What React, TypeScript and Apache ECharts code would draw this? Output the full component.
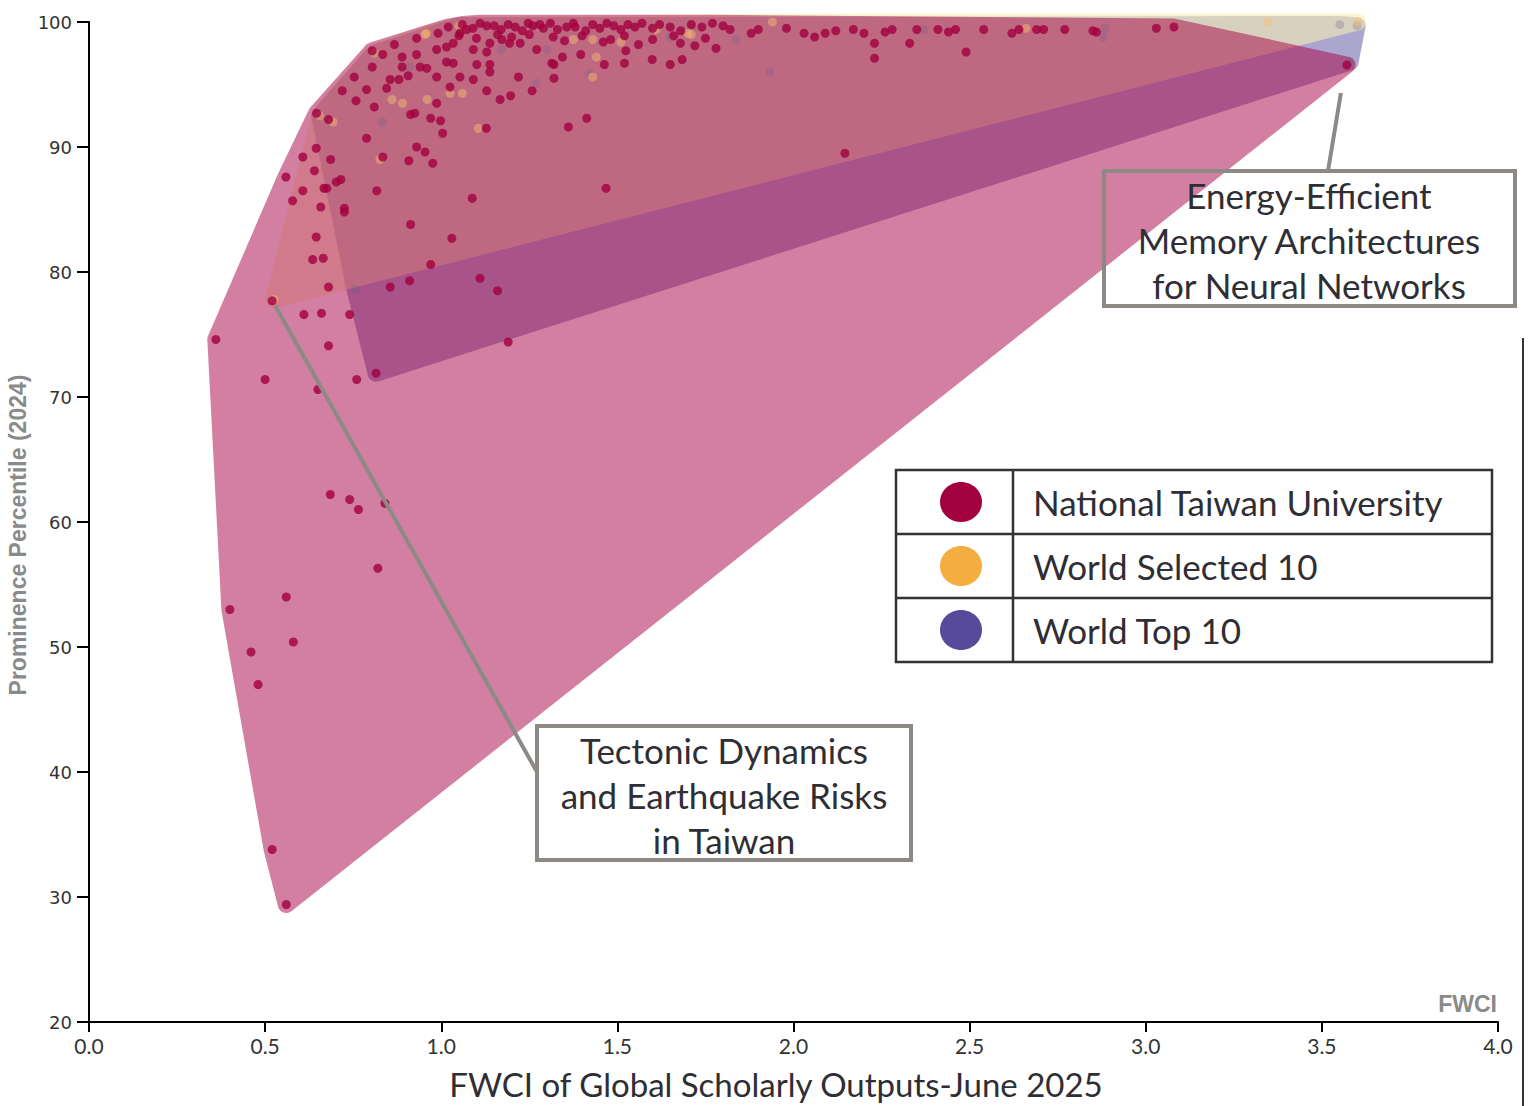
import React, { useEffect, useRef } from "react";
import * as echarts from "echarts";

// ---------- data ----------
const SERIES_NAMES = ["National Taiwan University", "World Selected 10", "World Top 10"];
const SERIES_COLORS = ["#a3003f", "#f4ad3f", "#584a9b"];

const X_TITLE = "FWCI of Global Scholarly Outputs-June 2025";
const Y_TITLE = "Prominence Percentile (2024)";
const X_CORNER_LABEL = "FWCI";

const NTU_POINTS: number[][] = [
  // lower / left
  [0.36, 74.6], [0.5, 71.4], [0.65, 70.6], [0.68, 74.1], [0.66, 76.7], [0.61, 76.6], [0.52, 77.7],
  [0.68, 78.8], [0.74, 76.6], [0.76, 71.4], [0.815, 71.9], [0.855, 78.8], [0.91, 79.3], [1.11, 79.5],
  [1.16, 78.5], [1.19, 74.4], [0.685, 62.2], [0.74, 61.8], [0.765, 61.0], [0.84, 61.5], [0.82, 56.3],
  [0.56, 54.0], [0.4, 53.0], [0.58, 50.4], [0.46, 49.6], [0.48, 47.0], [0.52, 33.8], [0.56, 29.4],
  // middle
  [0.97, 80.6], [1.03, 82.7], [0.635, 81.0], [0.665, 81.1], [0.645, 82.8], [0.913, 83.8], [0.645, 89.9],
  [0.607, 89.2], [0.686, 89.0], [0.559, 87.6], [0.64, 88.1], [0.702, 87.2], [0.715, 87.4], [0.667, 86.7],
  [0.675, 86.7], [0.607, 86.5], [0.578, 85.7], [0.658, 85.2], [0.725, 85.1], [0.725, 84.8], [0.817, 86.5],
  [1.088, 85.9], [0.834, 89.2], [0.908, 88.9], [0.976, 88.7], [0.93, 90.0], [0.954, 89.6], [1.004, 91.1],
  [0.998, 92.1], [0.97, 92.3], [0.913, 92.6], [0.925, 92.7], [1.128, 91.5], [1.361, 91.6], [1.413, 92.3],
  [1.468, 86.7], [2.146, 89.5], [0.646, 92.7], [0.68, 92.2], [0.788, 90.7], [0.81, 93.2],
  // upper
  [0.987, 93.5], [1.167, 93.8], [1.197, 94.1], [1.129, 94.5], [1.258, 94.5], [1.219, 95.6], [1.32, 95.5],
  [1.32, 96.6], [1.344, 97.2], [1.396, 97.4], [1.463, 96.6], [1.52, 96.7], [1.524, 97.7], [1.599, 97.0],
  [1.65, 96.6], [1.684, 97.0], [1.679, 98.3], [1.481, 98.6], [1.356, 99.6], [1.375, 99.9], [1.28, 99.8],
  [1.247, 99.9], [1.318, 98.8], [1.271, 97.8], [1.314, 96.7], [1.194, 98.3], [1.224, 98.3], [1.138, 98.3],
  [1.172, 98.6], [1.129, 99.7], [1.091, 97.8], [1.129, 97.6], [1.053, 99.1], [1.072, 99.4], [1.015, 98.0],
  [1.034, 98.3], [0.987, 97.8], [1.053, 95.6], [1.091, 95.4], [1.101, 96.6], [1.138, 96.6], [1.138, 96.0],
  [1.034, 96.7], [1.015, 96.8], [0.94, 96.4], [0.959, 96.3], [0.987, 95.6], [1.025, 94.8], [0.889, 97.2],
  [0.889, 96.4], [0.93, 97.4], [0.991, 99.1], [0.93, 98.7], [0.867, 98.2], [0.834, 97.4], [0.804, 97.7],
  [0.804, 96.4], [0.753, 95.6], [0.788, 94.6], [0.845, 94.7], [0.855, 95.4], [0.88, 95.4], [0.719, 94.5],
  [0.758, 93.7], [0.906, 95.7],
  // top row
  [1.02, 99.6], [1.06, 99.8], [1.09, 99.5], [1.11, 99.9], [1.15, 99.7], [1.17, 99.4], [1.19, 99.8],
  [1.21, 99.6], [1.23, 99.3], [1.26, 99.7], [1.29, 99.5], [1.31, 99.9], [1.33, 99.4], [1.38, 99.6],
  [1.41, 99.3], [1.43, 99.8], [1.45, 99.5], [1.47, 99.9], [1.49, 99.7], [1.51, 99.4], [1.53, 99.8],
  [1.55, 99.6], [1.57, 99.9], [1.6, 99.5], [1.62, 99.8], [1.65, 99.6], [1.68, 99.3], [1.71, 99.8],
  [1.74, 99.6], [1.77, 99.9], [1.8, 99.7],
  [1.05, 98.9], [1.1, 98.7], [1.16, 99.0], [1.2, 98.8], [1.25, 99.0], [1.35, 98.5], [1.4, 98.9],
  [1.46, 98.4], [1.52, 98.9], [1.56, 98.2], [1.6, 98.6], [1.66, 98.9], [1.72, 98.1], [1.75, 98.7],
  // right part
  [1.78, 97.9], [1.82, 99.4], [1.88, 99.1], [1.9, 99.4], [1.98, 99.5], [2.03, 99.1], [2.06, 98.8],
  [2.09, 99.1], [2.12, 99.3], [2.17, 99.4], [2.2, 99.1], [2.23, 98.3], [2.23, 97.1], [2.26, 99.2],
  [2.28, 99.4], [2.33, 98.3], [2.35, 99.4], [2.41, 99.4], [2.44, 99.2], [2.46, 99.4], [2.49, 97.6],
  [2.54, 99.4], [2.62, 99.1], [2.64, 99.4], [2.69, 99.4], [2.71, 99.4], [2.77, 99.4], [2.85, 99.3],
  [2.86, 99.2], [3.03, 99.5], [3.08, 99.6], [3.571, 96.56],
];

const SELECTED_POINTS: number[][] = [
  [0.525, 77.8], [0.655, 92.5], [0.81, 97.5], [1.05, 99.7], [3.347, 100], [3.602, 100], [0.958, 99.1],
  [0.86, 93.8], [0.89, 93.5], [0.96, 93.8], [1.025, 94.3], [1.06, 94.3], [1.105, 91.5], [0.826, 89.0],
  [1.43, 95.6], [1.375, 98.6], [1.61, 99.4], [1.7, 99.1], [0.693, 92.0], [0.954, 99.0], [1.44, 97.2],
  [1.51, 98.4], [1.71, 99.0], [1.94, 100], [2.66, 99.5], [1.43, 98.6],
];

const TOP10_POINTS: number[][] = [
  [0.655, 92.5], [0.755, 78.6], [0.815, 71.9], [3.58, 96.8], [3.6, 99.7], [1.05, 99.7], [0.81, 97.5],
  [0.832, 92.0], [1.933, 96.0], [2.884, 99.5], [3.551, 99.8], [1.837, 98.6], [2.37, 99.4], [2.88, 98.8],
  [1.27, 95.1], [0.91, 96.4], [1.17, 97.8], [1.3, 97.8], [1.65, 98.8], [1.71, 99.5], [1.42, 95.9],
];

const ANNOTATIONS = [
  { text: "Energy-Efficient\nMemory Architectures\nfor Neural Networks", point: [3.571, 96.56] },
  { text: "Tectonic Dynamics\nand Earthquake Risks\nin Taiwan", point: [0.523, 77.7] },
];

// ---------- helpers ----------
function cross(o: number[], a: number[], b: number[]) {
  return (a[0] - o[0]) * (b[1] - o[1]) - (a[1] - o[1]) * (b[0] - o[0]);
}
function convexHull(pts: number[][]) {
  const p = pts.slice().sort((a, b) => a[0] - b[0] || a[1] - b[1]);
  if (p.length < 3) return p;
  const lower: number[][] = [];
  for (const q of p) {
    while (lower.length >= 2 && cross(lower[lower.length - 2], lower[lower.length - 1], q) <= 0) lower.pop();
    lower.push(q);
  }
  const upper: number[][] = [];
  for (let i = p.length - 1; i >= 0; i--) {
    const q = p[i];
    while (upper.length >= 2 && cross(upper[upper.length - 2], upper[upper.length - 1], q) <= 0) upper.pop();
    upper.push(q);
  }
  upper.pop();
  lower.pop();
  return lower.concat(upper);
}

function hullSeries(name: string, points: number[][], fill: string, z: number) {
  const PAD = 8.5;
  return {
    name,
    type: "custom",
    data: points,
    z,
    silent: true,
    clip: false,
    encode: { x: 0, y: 1 },
    renderItem: (params: any, api: any) => {
      if (params.dataIndex !== 0) return null;
      const px = points.map((p) => api.coord(p));
      const hull = convexHull(px);
      const ring: number[][] = [];
      hull.forEach(([x, y]) => {
        for (let k = 0; k < 36; k++) {
          const a = (k * Math.PI * 2) / 36;
          ring.push([x + PAD * Math.cos(a), y + PAD * Math.sin(a)]);
        }
      });
      return { type: "polygon", shape: { points: convexHull(ring) }, style: { fill } };
    },
  };
}

const TEXT_COLOR = "#2e2e34";
const BOX_COLOR = "#8d8a86";
const TEXT_FONT = "Lato";

export default function App() {
  const ref = useRef<HTMLDivElement>(null);

  useEffect(() => {
    if (!ref.current) return;
    const chart = echarts.init(ref.current, undefined, { renderer: "svg" });
    const option: any = {
      animation: false,
      backgroundColor: "#ffffff",
      grid: { left: 89, right: 30, top: 22, bottom: 84, containLabel: false, outerBoundsMode: "none" },
      xAxis: {
        type: "value",
        min: 0,
        max: 4,
        interval: 0.5,
        splitLine: { show: false },
        axisLine: { show: true, onZero: false, lineStyle: { color: "#000", width: 2 } },
        axisTick: { show: true, length: 10, lineStyle: { color: "#000", width: 2 } },
        axisLabel: {
          formatter: (v: number) => v.toFixed(1),
          fontSize: 21,
          fontFamily: TEXT_FONT,
          color: "#333",
          margin: 13,
        },
      },
      yAxis: {
        type: "value",
        min: 20,
        max: 100,
        interval: 10,
        splitLine: { show: false },
        axisLine: { show: true, onZero: false, lineStyle: { color: "#000", width: 2 } },
        axisTick: { show: true, length: 12, lineStyle: { color: "#000", width: 2 } },
        axisLabel: { fontSize: 18, fontFamily: "DejaVu Sans", color: "#333", margin: 17 },
      },
      series: [
        hullSeries(SERIES_NAMES[2] + " hull", TOP10_POINTS, "rgba(85,77,161,0.5)", 1),
        hullSeries(SERIES_NAMES[1] + " hull", SELECTED_POINTS, "rgba(247,239,181,0.6)", 2),
        hullSeries(SERIES_NAMES[0] + " hull", NTU_POINTS, "rgba(165,0,68,0.5)", 3),
        {
          name: SERIES_NAMES[2],
          type: "scatter",
          data: TOP10_POINTS,
          symbolSize: 9,
          z: 4,
          silent: true,
          itemStyle: { color: "rgba(110,95,140,0.35)" },
        },
        {
          name: SERIES_NAMES[1],
          type: "scatter",
          data: SELECTED_POINTS,
          symbolSize: 9,
          z: 4,
          silent: true,
          itemStyle: { color: "rgba(245,190,110,0.6)" },
        },
        {
          name: SERIES_NAMES[0],
          type: "scatter",
          data: NTU_POINTS,
          symbolSize: 9,
          z: 5,
          silent: true,
          itemStyle: { color: SERIES_COLORS[0] },
        },
      ],
    };
    chart.setOption(option);

    const p1 = chart.convertToPixel({ gridIndex: 0 }, ANNOTATIONS[0].point) as number[];
    const p2 = chart.convertToPixel({ gridIndex: 0 }, ANNOTATIONS[1].point) as number[];

    const textStyle = (text: string, x: number, y: number, size: number, extra: any = {}) => ({
      text,
      x,
      y,
      fill: TEXT_COLOR,
      fontSize: size,
      fontFamily: TEXT_FONT,
      ...extra,
    });

    const legendRows = SERIES_NAMES.map((name, i) => {
      const cy = 502 + i * 64;
      return [
        {
          type: "ellipse",
          z: 100,
          shape: { cx: 961, cy, rx: 21, ry: 20 },
          style: { fill: SERIES_COLORS[i] },
        },
        {
          type: "text",
          z: 100,
          style: textStyle(name, 1033, cy, 35, { align: "left", verticalAlign: "middle" }),
        },
      ];
    }).flat();

    const graphic: any[] = [
      // annotation 1
      {
        type: "line",
        z: 100,
        shape: { x1: p1[0] - 6, y1: p1[1] + 28, x2: 1328, y2: 171 },
        style: { stroke: BOX_COLOR, lineWidth: 4 },
      },
      {
        type: "rect",
        z: 100,
        shape: { x: 1104, y: 171, width: 411, height: 135 },
        style: { fill: "none", stroke: BOX_COLOR, lineWidth: 4 },
      },
      {
        type: "text",
        z: 101,
        style: textStyle(ANNOTATIONS[0].text, 1309, 240, 35, {
          align: "center",
          verticalAlign: "middle",
          lineHeight: 45,
        }),
      },
      // annotation 2
      {
        type: "line",
        z: 100,
        shape: { x1: p2[0] + 2, y1: p2[1] + 5, x2: 537, y2: 772 },
        style: { stroke: BOX_COLOR, lineWidth: 4 },
      },
      {
        type: "rect",
        z: 100,
        shape: { x: 537, y: 726, width: 374, height: 134 },
        style: { fill: "none", stroke: BOX_COLOR, lineWidth: 4 },
      },
      {
        type: "text",
        z: 101,
        style: textStyle(ANNOTATIONS[1].text, 724, 795, 35, {
          align: "center",
          verticalAlign: "middle",
          lineHeight: 45,
        }),
      },
      // legend table
      {
        type: "rect",
        z: 99,
        shape: { x: 896, y: 470, width: 596, height: 192 },
        style: { fill: "#fff", stroke: "#333", lineWidth: 2.5 },
      },
      {
        type: "line",
        z: 100,
        shape: { x1: 896, y1: 534, x2: 1492, y2: 534 },
        style: { stroke: "#333", lineWidth: 2.5 },
      },
      {
        type: "line",
        z: 100,
        shape: { x1: 896, y1: 598, x2: 1492, y2: 598 },
        style: { stroke: "#333", lineWidth: 2.5 },
      },
      {
        type: "line",
        z: 100,
        shape: { x1: 1013, y1: 470, x2: 1013, y2: 662 },
        style: { stroke: "#333", lineWidth: 2.5 },
      },
      ...legendRows,
      // x axis title
      {
        type: "text",
        z: 100,
        style: textStyle(X_TITLE, 776, 1084, 33, { align: "center", verticalAlign: "middle" }),
      },
      // corner axis label
      {
        type: "text",
        z: 100,
        style: {
          text: X_CORNER_LABEL,
          x: 1497,
          y: 1004,
          align: "right",
          verticalAlign: "middle",
          fill: "#8a8a8a",
          fontSize: 23,
          fontWeight: "bold",
          fontFamily: "Liberation Sans",
        },
      },
      // y axis title
      {
        type: "text",
        z: 100,
        x: 18,
        y: 535,
        rotation: Math.PI / 2,
        style: {
          text: Y_TITLE,
          x: 0,
          y: 0,
          align: "center",
          verticalAlign: "middle",
          fill: "#8a8a8a",
          fontSize: 23,
          fontWeight: "bold",
          fontFamily: "Liberation Sans",
        },
      },
      // right frame line
      {
        type: "line",
        z: 100,
        shape: { x1: 1523, y1: 338, x2: 1523, y2: 1106 },
        style: { stroke: "#333", lineWidth: 2 },
      },
    ];
    chart.setOption({ graphic });

    return () => chart.dispose();
  }, []);

  return (
    <div
      ref={ref}
      style={{ position: "fixed", left: 0, top: 0, width: 1528, height: 1106, background: "#fff" }}
    />
  );
}
